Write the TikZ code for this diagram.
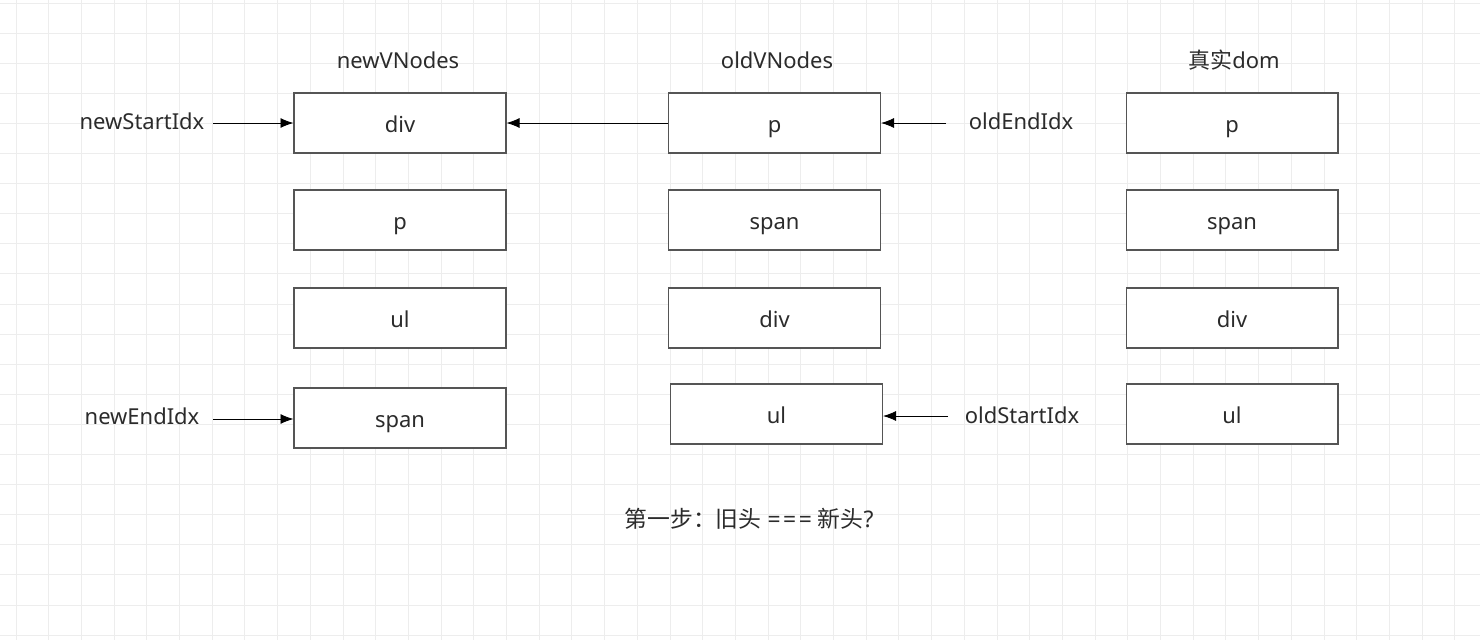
\documentclass[tikz,border=0pt]{standalone}
\usepackage{fontspec}
\setmainfont{Noto Sans}
\newfontfamily\cjk{Noto Sans CJK SC}
\usetikzlibrary{arrows.meta}

\definecolor{gridline}{HTML}{EDEDED}
\definecolor{boxline}{HTML}{555555}
\definecolor{txt}{HTML}{2B2B2B}

\tikzset{
  vnode/.style={draw=boxline, line width=0.6pt, fill=white, minimum width=4.24cm,
    minimum height=1.2cm, inner sep=0pt, text height=12pt, text depth=1pt,
    text=txt, font=\fontsize{12.5}{15}\selectfont},
  lbl/.style={text=txt, inner sep=0pt, font=\fontsize{12.5}{15}\selectfont},
  ptr/.style={-{Latex[length=2.6mm,width=2mm]}, line width=0.5pt}
}

\begin{document}
\begin{tikzpicture}[x=0.02cm,y=-0.02cm]
\useasboundingbox (0,0) rectangle (1480,640);
\fill[white] (0,0) rectangle (1480,640);
% grid
\foreach \i in {0,...,45} \draw[gridline, line width=0.5pt] ({16+32.7*\i},0) -- ++(0,640);
\foreach \j in {0,...,21} \draw[gridline, line width=0.5pt] (0,{3+30.1*\j}) -- ++(1480,0);

% column heads
\node[lbl] (newhead) at (398,60) {newVNodes};
\node[lbl] (oldhead) at (777,60) {oldVNodes};
\node[lbl] (domhead) at (1234,60) {{\cjk 真实}dom};

% new vnodes
\foreach \t/\y [count=\k] in {div/123,p/220,ul/318,span/418}
  \node[vnode] (new\k) at (400,\y) {\t};
% old vnodes
\node[vnode] (old1) at (774.5,123) {p};
\node[vnode] (old2) at (774.5,220) {span};
\node[vnode] (old3) at (774.5,318) {div};
\node[vnode] (old4) at (776.5,414) {ul};
% real dom
\foreach \t/\y [count=\k] in {p/123,span/220,div/318,ul/414}
  \node[vnode] (dom\k) at (1232,\y) {\t};

% pointers
\node[lbl] (nsi) at (142,121) {newStartIdx};
\node[lbl] (nei) at (142,416) {newEndIdx};
\node[lbl] (oei) at (1021,121) {oldEndIdx};
\node[lbl] (osi) at (1022,415) {oldStartIdx};
\coordinate (nsitail) at (213,123);
\coordinate (neitail) at (213,419);
\coordinate (oeitail) at (946,123);
\coordinate (ositail) at (948,416);
\draw[ptr] (nsitail) -- (nsitail -| new1.west);
\draw[ptr] (neitail) -- (neitail -| new4.west);
\draw[ptr] (oeitail) -- (oeitail -| old1.east);
\draw[ptr] (ositail) -- (ositail -| old4.east);

\draw[ptr] (old1.west) -- (new1.east);

\node[lbl, font=\fontsize{13}{15}\selectfont] (step) at (749,519)
  {{\cjk 第一步：旧头} =\kern1.5pt=\kern1.5pt= {\cjk 新头}?};
\end{tikzpicture}
\end{document}
